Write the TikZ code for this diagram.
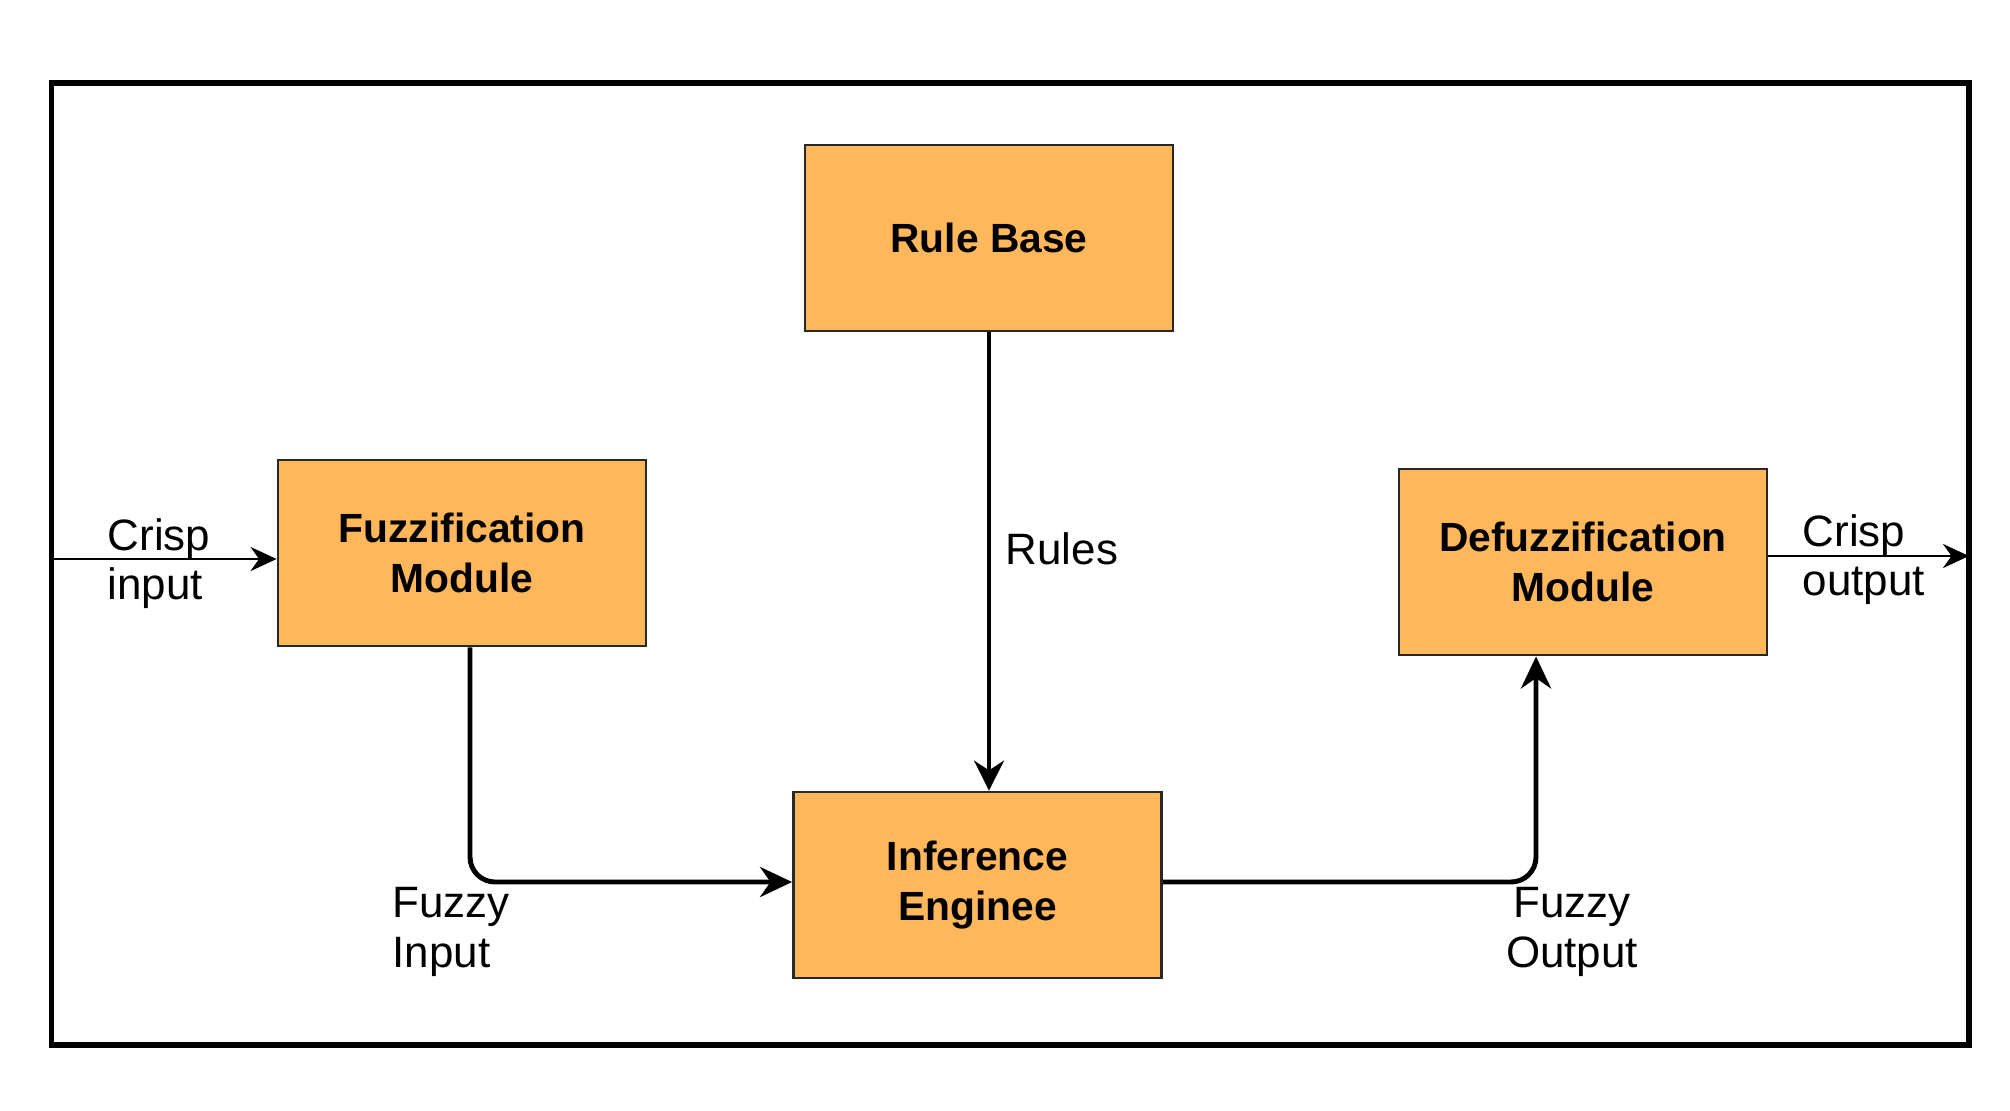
\documentclass[tikz,border=0pt]{standalone}
\usepackage{fontspec}
\setmainfont{Liberation Sans}
\usetikzlibrary{arrows.meta, positioning}
\definecolor{module}{RGB}{254,183,90}
\definecolor{edge}{RGB}{40,40,40}

\begin{document}
\begin{tikzpicture}[
    font=\fontsize{12.5}{14}\selectfont,
    block/.style={draw=edge, line width=0.8pt, fill=module, minimum width=3.68cm, minimum height=1.86cm, align=center, font=\fontsize{11.6}{14}\selectfont\bfseries},
    tag/.style={inner sep=0pt},
    thin arrow/.style={line width=0.8pt, -{Stealth[length=0.26cm, width=0.24cm]}},
    rules arrow/.style={line width=1.1pt, -{Stealth[length=0.3cm, width=0.3cm]}},
    thick arrow/.style={line width=1.4pt, rounded corners=0.25cm, -{Stealth[length=0.32cm, width=0.3cm]}}
]

    \useasboundingbox (0,0) rectangle (20.1,11.1);

    % Frame
    \draw[line width=1.5pt] (0.515,0.65) rectangle (19.69,10.27);

    % Modules
    \node[block] (rule) at (9.89,8.72) {Rule Base};
    \node[block] (fuzz) at (4.62,5.57) {Fuzzification\\Module};
    \node[block] (defuzz) at (15.83,5.48) {Defuzzification\\Module};
    \node[block] (infer) at (9.775,2.25) {Inference\\Enginee};

    % Ends on the frame and bends
    \coordinate (in) at (0.515,5.51);
    \coordinate (out) at (19.69,5.54);
    \coordinate (fi) at (4.70,2.28);
    \coordinate (fo) at (15.36,2.28);

    % Connectors
    \draw[thin arrow] (in) -- (in -| fuzz.west);
    \draw[thin arrow] (defuzz.east |- out) -- (out);
    \draw[rules arrow] (rule.south) -- (rule.south |- infer.north);
    \draw[thick arrow] (fuzz.south -| fi) -- (fi) -- (fi -| infer.west);
    \draw[thick arrow] (infer.east |- fo) -- (fo) -- (fo |- defuzz.south);

    % Labels
    \node[tag, anchor=west, align=left] (crispin) at (1.07,5.46) {Crisp\\input};
    \node[tag, anchor=west] (rules) at (10.05,5.61) {Rules};
    \node[tag, anchor=west, align=left] (crispout) at (18.02,5.50) {Crisp\\output};
    \node[tag, anchor=west, align=left] (fuzzyin) at (3.92,1.78) {Fuzzy\\Input};
    \node[tag, align=center] (fuzzyout) at (15.72,1.78) {Fuzzy\\Output};

\end{tikzpicture}
\end{document}
